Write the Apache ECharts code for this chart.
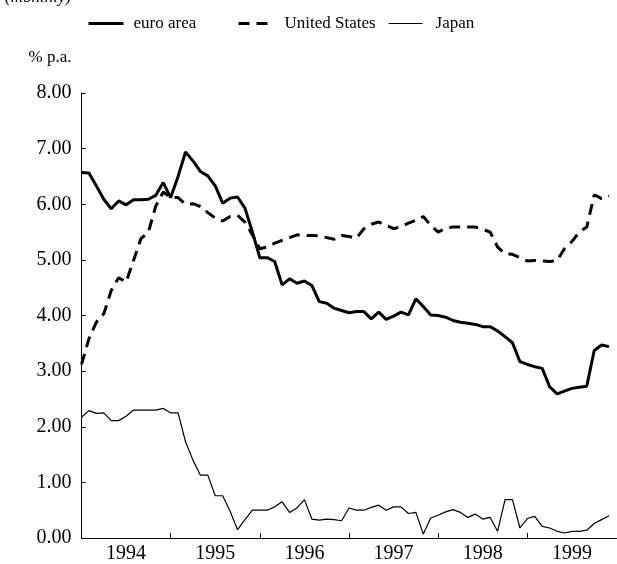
<!DOCTYPE html>
<html>
<head>
<meta charset="utf-8">
<script src="https://cdn.jsdelivr.net/npm/echarts@6/dist/echarts.min.js"></script>
<style>
html,body{margin:0;padding:0;background:#fff;}
#c{width:617px;height:564px;}
</style>
</head>
<body>
<div id="c"></div>
<script>
// Monthly observations, Jan 1994 .. Dec 1999 (72 months)
var years = ['1994', '1995', '1996', '1997', '1998', '1999'];
var months = [];
years.forEach(function (y) { for (var m = 1; m <= 12; m++) months.push(y + '-' + (m < 10 ? '0' + m : m)); });

var euroArea = [6.57, 6.56, 6.33, 6.09, 5.92, 6.06, 5.99, 6.08, 6.08, 6.09, 6.16, 6.39,
  6.12, 6.50, 6.94, 6.78, 6.59, 6.51, 6.33, 6.02, 6.11, 6.13, 5.93, 5.50,
  5.04, 5.04, 4.97, 4.55, 4.66, 4.58, 4.62, 4.54, 4.25, 4.22, 4.13, 4.09,
  4.05, 4.07, 4.07, 3.94, 4.06, 3.93, 3.99, 4.06, 4.01, 4.30, 4.16, 4.01,
  4.00, 3.97, 3.91, 3.88, 3.86, 3.84, 3.80, 3.80, 3.72, 3.62, 3.51, 3.17,
  3.12, 3.08, 3.05, 2.72, 2.59, 2.64, 2.69, 2.71, 2.73, 3.37, 3.47, 3.44];

var unitedStates = [3.12, 3.58, 3.88, 4.03, 4.45, 4.68, 4.60, 4.99, 5.38, 5.50, 5.97, 6.22,
  6.12, 6.12, 6.00, 6.01, 5.96, 5.85, 5.75, 5.70, 5.78, 5.80, 5.68, 5.45,
  5.20, 5.23, 5.30, 5.35, 5.40, 5.45, 5.44, 5.44, 5.43, 5.40, 5.37, 5.44,
  5.42, 5.39, 5.56, 5.64, 5.68, 5.62, 5.56, 5.60, 5.66, 5.71, 5.78, 5.62,
  5.50, 5.57, 5.59, 5.59, 5.59, 5.59, 5.55, 5.50, 5.23, 5.11, 5.10, 5.04,
  4.98, 4.99, 4.98, 4.97, 4.99, 5.20, 5.33, 5.50, 5.59, 6.17, 6.10, 6.15];

var japan = [2.17, 2.29, 2.24, 2.25, 2.11, 2.11, 2.19, 2.30, 2.30, 2.30, 2.30, 2.33,
  2.25, 2.25, 1.73, 1.40, 1.13, 1.13, 0.76, 0.76, 0.48, 0.15, 0.33, 0.50,
  0.50, 0.50, 0.56, 0.65, 0.46, 0.54, 0.69, 0.34, 0.32, 0.34, 0.33, 0.31,
  0.54, 0.50, 0.50, 0.55, 0.59, 0.50, 0.56, 0.56, 0.44, 0.46, 0.07, 0.36,
  0.41, 0.47, 0.51, 0.46, 0.37, 0.43, 0.34, 0.37, 0.12, 0.69, 0.69, 0.18,
  0.35, 0.39, 0.21, 0.18, 0.12, 0.09, 0.12, 0.12, 0.14, 0.26, 0.33, 0.40];

var yTicks = ['0.00', '1.00', '2.00', '3.00', '4.00', '5.00', '6.00', '7.00', '8.00'];

function pairs(arr) { return arr.map(function (v, i) { return [i, v]; }); }

var FONT = 'Liberation Serif';
var chart = echarts.init(document.getElementById('c'), null, { renderer: 'canvas' });

var yearBoundaries = years.slice(1).map(function (y, k) { return (k + 1) * 12; });
var yearCentres = years.map(function (y, k) { return k * 12 + 6; });

function legendFor(name, left, pad, w, lw) {
  return {
    data: [name], left: left, top: 10, itemWidth: w, itemHeight: 14, itemGap: 0,
    selectedMode: false,
    itemStyle: { opacity: 0 },
    lineStyle: { width: lw, color: '#000', type: 'inherit' },
    textStyle: { fontFamily: FONT, fontSize: 17, color: '#000', padding: [0, 0, 0, pad] }
  };
}

chart.setOption({
  backgroundColor: '#fff',
  animation: false,
  title: {
    text: '(monthly)', left: 0, top: -16,
    textStyle: { fontFamily: FONT, fontSize: 17, fontStyle: 'italic', fontWeight: 'normal', color: '#000' }
  },
  legend: [
    legendFor('euro area', 82, 5, 35, 3),
    legendFor('United States', 232, 12, 29, 3),
    legendFor('Japan', 383, 8, 34, 1.2)
  ],
  grid: { left: 81.5, top: 93, width: 535, bottom: 22, containLabel: false },
  xAxis: {
    type: 'value', min: 0, max: 72,
    axisLine: { show: true, lineStyle: { color: '#000', width: 1 } },
    splitLine: { show: false },
    axisTick: { show: true, inside: true, length: 5, customValues: yearBoundaries, lineStyle: { color: '#000' } },
    axisLabel: {
      customValues: yearCentres, margin: 6, color: '#000', fontFamily: FONT, fontSize: 20,
      formatter: function (v) { return years[Math.round((v - 6) / 12)] || ''; }
    }
  },
  yAxis: {
    type: 'value', min: 0, max: 8, interval: 1,
    name: '% p.a.', nameLocation: 'end', nameGap: 27,
    nameTextStyle: { fontFamily: FONT, fontSize: 17, color: '#000', align: 'right', padding: [0, 10, 0, 0] },
    axisLine: { show: true, lineStyle: { color: '#000', width: 1 } },
    splitLine: { show: false },
    axisTick: { show: true, inside: true, length: 4, lineStyle: { color: '#000' } },
    axisLabel: {
      margin: 10, color: '#000', fontFamily: FONT, fontSize: 20,
      formatter: function (v) { return yTicks[Math.round(v)]; }
    }
  },
  series: [
    { name: 'euro area', type: 'line', data: pairs(euroArea), showSymbol: false, symbol: 'none',
      lineStyle: { color: '#000', width: 3 }, itemStyle: { color: '#000' } },
    { name: 'United States', type: 'line', data: pairs(unitedStates), showSymbol: false, symbol: 'none',
      lineStyle: { color: '#000', width: 3, type: [11, 7] }, itemStyle: { color: '#000' } },
    { name: 'Japan', type: 'line', data: pairs(japan), showSymbol: false, symbol: 'none',
      lineStyle: { color: '#000', width: 1.2 }, itemStyle: { color: '#000' } }
  ]
});
</script>
</body>
</html>
